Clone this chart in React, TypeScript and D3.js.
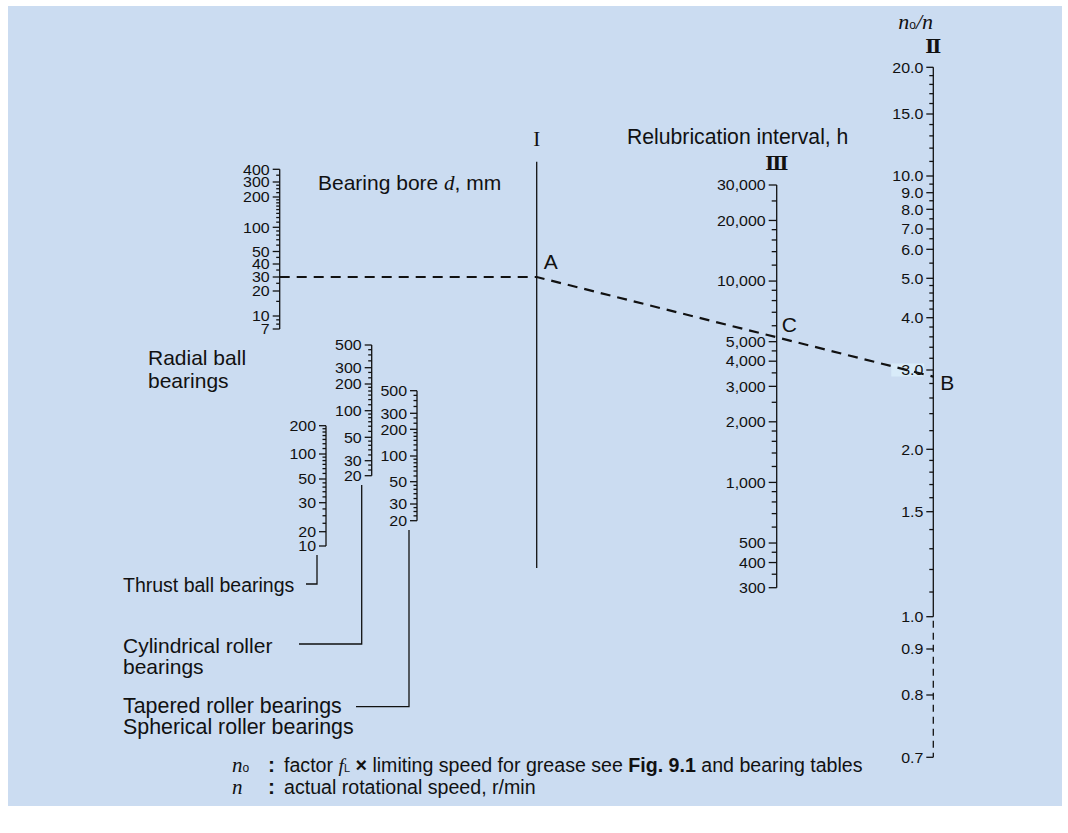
import React from "react";
import * as d3 from "d3";

// Radial ball bearings, bore d (mm)
const radialTicks = [400, 300, 200, 100, 50, 40, 30, 20, 10, 7];
const radialSubdiv = [2, 4, 8, 5, 2, 2, 2, 2, 3];
// Thrust ball bearings
const thrustTicks = [200, 100, 50, 30, 20, 10];
const thrustSubdiv = [7, 6, 5, 4, 1];
// Cylindrical roller bearings
const cylTicks = [500, 300, 200, 100, 50, 30, 20];
const cylSubdiv = [4, 3, 6, 6, 5, 3];
// Tapered / spherical roller bearings
const taperTicks = [500, 300, 200, 100, 50, 30, 20];
const taperSubdiv = [4, 3, 6, 6, 5, 4];
// Relubrication interval, h (scale III)
const intervalTicks = [30000, 20000, 10000, 5000, 4000, 3000, 2000, 1000, 500, 400, 300];
const intervalMinor = [
  25000, 18000, 16000, 14000, 12000, 9000, 8000, 7000, 6000, 4500, 3500, 2500,
  1800, 1600, 1400, 1200, 900, 800, 700, 600, 450, 350,
];
// no/n (scale II)
const ratioTicks = [20, 15, 10, 9, 8, 7, 6, 5, 4, 3, 2, 1.5, 1, 0.9, 0.8, 0.7];
const ratioSubdiv = [5, 5, 2, 2, 2, 2, 2, 5, 5, 5, 5, 5, 1, 1, 1];

// worked example: d = 30 mm, no/n ~ 2.9
const exampleBore = 30;
const exampleRatio = 2.9;

const FONT = "'Liberation Sans', Arial, Helvetica, sans-serif";
const SERIF = "'Liberation Serif', 'DejaVu Serif', serif";
const INK = "#111";

// calibration of the functional scales (pixel positions of the labelled ticks)
const radialY = [169.3, 182, 197, 227.3, 251.5, 264, 277, 291, 316, 329];
const thrustY = [425.7, 454, 479, 502.7, 531.7, 546];
const cylY = [345, 367.7, 384, 410.7, 437.3, 460.7, 475.7];
const taperY = [390.7, 413.3, 429.3, 456, 481.7, 504, 520.7];
const ratioY = [67.3, 114, 176, 192.7, 209.3, 229, 249.3, 278.3, 317.7, 370, 449.3, 511.7, 616.7, 649, 695, 757.3];

const X = { radial: 279.7, thrust: 326, cyl: 371.7, taper: 417, I: 536.7, III: 776.7, II: 933.3 };

function minorsFrom(ticks: number[], subdiv: number[]) {
  return ticks.slice(1).flatMap((b, i) => {
    const a = ticks[i];
    return d3.range(1, subdiv[i]).map(k => a + ((b - a) * k) / subdiv[i]);
  });
}

interface VScaleProps {
  x: number;
  scale: (v: number) => number;
  majors: number[];
  minors: number[];
  fmt: (v: number) => string;
  majorLen: number;
  minorLen: number;
  axis?: boolean;
  highlight?: number;
}

const VScale: React.FC<VScaleProps> = ({ x, scale, majors, minors, fmt, majorLen, minorLen, axis = true, highlight }) => {
  const ext = d3.extent(majors) as [number, number];
  return (
    <g stroke={INK} strokeWidth={1.3}>
      {axis && <line x1={x} x2={x} y1={scale(ext[1])} y2={scale(ext[0])} />}
      {minors.map((v, i) => (
        <line key={"m" + i} x1={x - minorLen} x2={x} y1={scale(v)} y2={scale(v)} />
      ))}
      {majors.map((v, i) => (
        <line key={"M" + i} x1={x - majorLen} x2={x} y1={scale(v)} y2={scale(v)} />
      ))}
      {highlight !== undefined && (
        <rect x={x - majorLen - 35} y={scale(highlight) - 6.5} width={33} height={13} fill="#d8ebf9" stroke="none" />
      )}
      {majors.map((v, i) => (
        <text
          key={"t" + i}
          transform={`translate(${x - majorLen - 3},${scale(v)}) scale(1.1,1)`}
          textAnchor="end"
          dominantBaseline="central"
          fontSize={14.5}
          fill={INK}
          stroke="none"
        >
          {fmt(v)}
        </text>
      ))}
    </g>
  );
};

export default function App() {
  const radial = d3.scaleLog().domain(radialTicks).range(radialY);
  const thrust = d3.scaleLog().domain(thrustTicks).range(thrustY);
  const cyl = d3.scaleLog().domain(cylTicks).range(cylY);
  const taper = d3.scaleLog().domain(taperTicks).range(taperY);
  const interval = d3.scaleLog().domain([300, 30000]).range([587.7, 185]);
  const ratio = d3.scaleLog().domain(ratioTicks).range(ratioY);

  const plain = (v: number) => String(v);
  const comma = d3.format(",");
  const one = d3.format(".1f");

  // example line: bore on radial scale -> A on scale I -> B on scale II, C where it crosses III
  const yA = radial(exampleBore);
  const yB = ratio(exampleRatio);
  const yC = yA + ((yB - yA) * (X.III - X.I)) / (X.II - X.I);

  const label = { fontFamily: FONT, fill: INK };

  return (
    <svg
      width={1068}
      height={833}
      style={{ position: "absolute", left: 0, top: 0, background: "#fff" }}
      fontFamily={FONT}
    >
      <rect x={8} y={6} width={1054} height={800} fill="#cbdcf1" />

      {/* scales */}
      <VScale x={X.radial} scale={radial} majors={radialTicks} minors={minorsFrom(radialTicks, radialSubdiv)} fmt={plain} majorLen={7} minorLen={3.5} />
      <VScale x={X.thrust} scale={thrust} majors={thrustTicks} minors={minorsFrom(thrustTicks, thrustSubdiv)} fmt={plain} majorLen={7} minorLen={3.5} />
      <VScale x={X.cyl} scale={cyl} majors={cylTicks} minors={minorsFrom(cylTicks, cylSubdiv)} fmt={plain} majorLen={7} minorLen={3.5} />
      <VScale x={X.taper} scale={taper} majors={taperTicks} minors={minorsFrom(taperTicks, taperSubdiv)} fmt={plain} majorLen={7} minorLen={3.5} />
      <VScale x={X.III} scale={interval} majors={intervalTicks} minors={intervalMinor} fmt={comma} majorLen={8} minorLen={5} />
      <VScale
        x={X.II}
        scale={ratio}
        majors={ratioTicks}
        minors={minorsFrom(ratioTicks, ratioSubdiv)}
        fmt={one}
        majorLen={7}
        minorLen={4}
        axis={false}
        highlight={3}
      />
      {/* scale II axis: solid above 1.0, dashed below */}
      <line x1={X.II} x2={X.II} y1={ratio(20)} y2={ratio(1)} stroke={INK} strokeWidth={1.3} />
      <line x1={X.II} x2={X.II} y1={ratio(1) + 4} y2={ratio(0.7)} stroke={INK} strokeWidth={1.3} strokeDasharray="7,5" />

      {/* scale I */}
      <line x1={X.I} x2={X.I} y1={161.7} y2={568} stroke={INK} strokeWidth={1.3} />

      {/* leaders from bearing-type labels */}
      <path d={`M306,584H${X.thrust - 9}V555`} fill="none" stroke={INK} strokeWidth={1.3} />
      <path d={`M299,644H${X.cyl - 10}V485`} fill="none" stroke={INK} strokeWidth={1.3} />
      <path d={`M356,706.7H${X.taper - 8}V530`} fill="none" stroke={INK} strokeWidth={1.3} />

      {/* worked example */}
      <path
        d={`M${X.radial},${yA}H${X.I}L${X.II},${yB}`}
        fill="none"
        stroke="#111"
        strokeWidth={2.2}
        strokeDasharray="10,7"
      />
      <text x={X.I + 7} y={yA - 8} fontSize={21} {...label}>A</text>
      <text x={X.II + 7} y={yB + 13} fontSize={21} {...label}>B</text>
      <text x={X.III + 5} y={yC - 5} fontSize={21} {...label}>C</text>

      {/* scale titles */}
      <text x={X.I} y={146} textAnchor="middle" fontFamily={SERIF} fontSize={21} fill={INK}>I</text>
      <text x={X.III} y={170} textAnchor="middle" fontFamily="'DejaVu Serif', serif" fontWeight="bold" fontSize={19} fill={INK}>Ⅲ</text>
      <text x={X.II} y={53} textAnchor="middle" fontFamily="'DejaVu Serif', serif" fontWeight="bold" fontSize={19} fill={INK}>Ⅱ</text>
      <text x={X.II - 35} y={29} fontFamily={SERIF} fontSize={22} fill={INK}>
        <tspan fontStyle="italic">n</tspan>
        <tspan fontFamily={FONT} fontSize={12}>o</tspan>
        <tspan fontStyle="italic">/n</tspan>
      </text>

      <text x={627} y={144} fontSize={21.2} {...label}>Relubrication interval, h</text>
      <text x={318} y={190} fontSize={21} {...label}>
        Bearing bore <tspan fontFamily={SERIF} fontStyle="italic">d</tspan>, mm
      </text>

      {/* bearing type labels */}
      <text x={148} y={365} fontSize={21} {...label}>Radial ball</text>
      <text x={148} y={388} fontSize={21} {...label}>bearings</text>
      <text x={123} y={591.7} fontSize={19.5} {...label}>Thrust ball bearings</text>
      <text x={123} y={652.7} fontSize={21} {...label}>Cylindrical roller</text>
      <text x={123} y={673.5} fontSize={21} {...label}>bearings</text>
      <text x={123} y={713.3} fontSize={21.4} {...label}>Tapered roller bearings</text>
      <text x={123} y={734} fontSize={21.4} {...label}>Spherical roller bearings</text>

      {/* footnote */}
      <text x={232} y={772} fontSize={19.6} {...label}>
        <tspan fontFamily={SERIF} fontStyle="italic" fontSize={21}>n</tspan>
        <tspan fontSize={12}>o</tspan>
      </text>
      <text x={268} y={772} fontSize={21} fontWeight="bold" {...label}>:</text>
      <text x={284} y={772} fontSize={19.6} {...label}>
        factor <tspan fontFamily={SERIF} fontStyle="italic">f</tspan>
        <tspan fontSize={11}>L</tspan>
        <tspan fontWeight="bold"> × </tspan>limiting speed for grease see{" "}
        <tspan fontWeight="bold">Fig. 9.1</tspan> and bearing tables
      </text>
      <text x={232} y={794} fontSize={21} fontFamily={SERIF} fontStyle="italic" fill={INK}>n</text>
      <text x={268} y={794} fontSize={21} fontWeight="bold" {...label}>:</text>
      <text x={284} y={794} fontSize={19.6} {...label}>actual rotational speed, r/min</text>
    </svg>
  );
}
